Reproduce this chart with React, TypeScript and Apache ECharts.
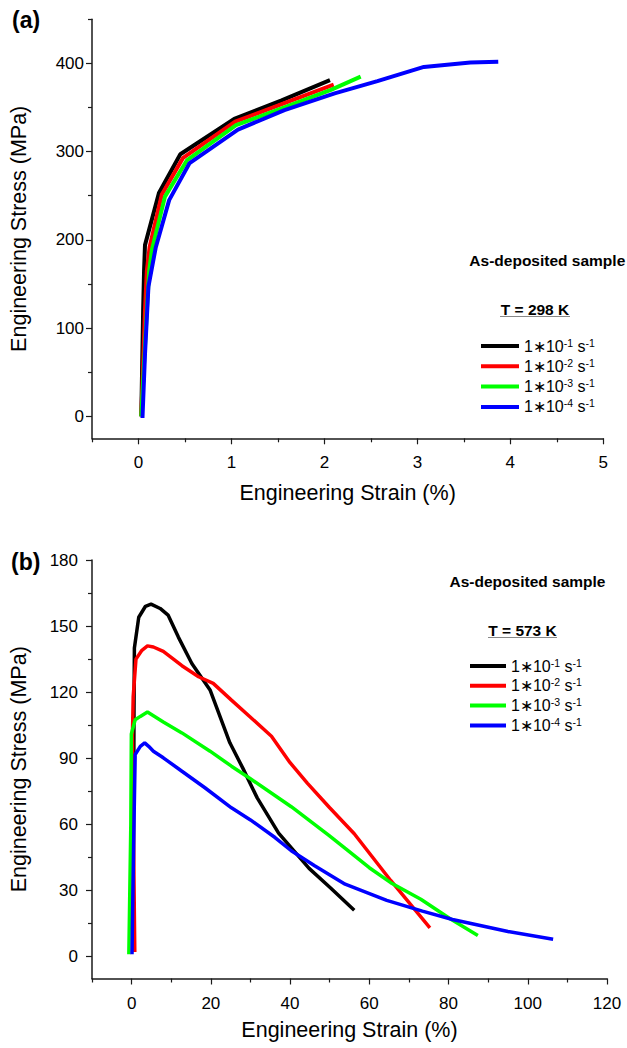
import { useEffect, useRef } from 'react';
import * as echarts from 'echarts';

const FONT = '"Liberation Sans", Arial, Helvetica, sans-serif';

// Legend / series meta
const rateNames = ['1∗10-1 s-1', '1∗10-2 s-1', '1∗10-3 s-1', '1∗10-4 s-1'];
const rateExps = ['-1', '-2', '-3', '-4'];
const rateColors = ['#000000', '#ff0000', '#00ff00', '#0000ff'];

// Panel (a): T = 298 K  [strain %, stress MPa]
const a298Rate1 = [[0.03, 0], [0.04, 60], [0.05, 120], [0.06, 165], [0.07, 194], [0.22, 253], [0.45, 297], [1.03, 337], [1.54, 358], [2.06, 381]];
const a298Rate2 = [[0.03, 0], [0.05, 60], [0.07, 120], [0.09, 165], [0.12, 192], [0.25, 251], [0.48, 293], [1.04, 334], [1.57, 355], [2.1, 376]];
const a298Rate3 = [[0.03, 0], [0.06, 60], [0.09, 120], [0.115, 165], [0.145, 189], [0.285, 249], [0.52, 290], [1.05, 330], [1.59, 351], [2.07, 370], [2.39, 385]];
const a298Rate4 = [[0.043, -2], [0.07, 70], [0.107, 147], [0.185, 191], [0.33, 245], [0.55, 287], [1.07, 325], [1.57, 347], [2.11, 366], [2.57, 380], [3.07, 396], [3.57, 401], [3.87, 402]];

// Panel (b): T = 573 K
const b573Rate1 = [[0.3, 2], [0.5, 60], [0.6, 110], [0.7, 140], [1.8, 154], [3.5, 159], [4.9, 160], [7.2, 158], [9.2, 155], [11.8, 145], [15.2, 133], [19.8, 121], [24.8, 97], [28.1, 85.4], [31.7, 72], [37.1, 56], [44.8, 40], [50.3, 31], [56.2, 21]];
const b573Rate2 = [[0.8, 2], [0.5, 50], [0.2, 100], [0.4, 118], [1.1, 135], [2.6, 139], [4.0, 141], [5.5, 140.5], [8.0, 138.5], [12.7, 132], [16.9, 127], [20.6, 124], [25.2, 116.4], [30, 108.6], [35.3, 100], [40, 88], [44.4, 78.6], [50, 67.5], [56.2, 55.7], [65.4, 34.5], [75.3, 13]];
const b573Rate3 = [[-0.7, 1], [-0.2, 60], [-0.07, 101], [0.9, 107.5], [2.2, 109], [4.0, 111], [8.0, 106.5], [12.7, 101.5], [19.8, 93.2], [25.2, 86.4], [29.9, 80.8], [40.3, 68], [49.8, 55], [54, 49], [60, 40.3], [65.4, 33.5], [73, 26], [80.5, 17], [87.4, 9.5]];
const b573Rate4 = [[0.1, 1], [0.5, 50], [0.9, 91.7], [2.2, 95.4], [3.3, 97], [4.3, 95.4], [5.5, 93.2], [8, 90.2], [12.7, 84.1], [18.5, 76.6], [25.2, 67.5], [30, 62], [36.2, 54], [40.3, 48], [46.2, 41.2], [53.9, 32.8], [64.4, 25.5], [73.4, 20.6], [81, 16.8], [95, 11.3], [106.4, 7.8]];

// Axis ticks
const aXLabels = [0, 1, 2, 3, 4, 5];
const aXMinor = [-0.5, 0.5, 1.5, 2.5, 3.5, 4.5];
const aYLabels = [0, 100, 200, 300, 400];
const aYMinor = [50, 150, 250, 350, 450];
const bXLabels = [0, 20, 40, 60, 80, 100, 120];
const bXMinor = [-10, 10, 30, 50, 70, 90, 110];
const bYLabels = [0, 30, 60, 90, 120, 150, 180];
const bYMinor = [15, 45, 75, 105, 135, 165];

const aSeries = [a298Rate1, a298Rate2, a298Rate3, a298Rate4];
const bSeries = [b573Rate1, b573Rate2, b573Rate3, b573Rate4];

const AXIS_COLOR = '#1a1a1a';

function mainAxis(gridIndex: number, min: number, max: number, labels: number[], name: string, nameGap: number, isX: boolean, labelMargin: number) {
  return {
    type: 'value',
    gridIndex,
    min,
    max,
    position: isX ? 'bottom' : 'left',
    name,
    nameLocation: 'middle',
    nameGap,
    nameTextStyle: { fontSize: 21.5, color: '#000', fontFamily: FONT },
    axisLine: { show: true, onZero: false, lineStyle: { color: AXIS_COLOR, width: 1.5 } },
    axisTick: { show: true, inside: false, length: 6, customValues: labels, lineStyle: { color: AXIS_COLOR, width: 1.2 } },
    minorTick: { show: false },
    axisLabel: { show: true, customValues: labels, fontSize: 17, color: '#000', fontFamily: FONT, margin: labelMargin },
    splitLine: { show: false },
  };
}

function minorAxis(gridIndex: number, min: number, max: number, ticks: number[], isX: boolean) {
  return {
    type: 'value',
    gridIndex,
    min,
    max,
    position: isX ? 'bottom' : 'left',
    offset: 0,
    axisLine: { show: false, onZero: false },
    axisTick: { show: true, inside: false, length: 4, customValues: ticks, lineStyle: { color: AXIS_COLOR, width: 1.2 } },
    axisLabel: { show: false },
    splitLine: { show: false },
  };
}

function legendFormatter(name: string) {
  const i = rateNames.indexOf(name);
  return `{b|1∗10}{s|${rateExps[i]}}{b| s}{s|-1}`;
}

const legendRich = {
  b: { fontSize: 16, fontFamily: FONT, color: '#000', lineHeight: 18 },
  s: { fontSize: 10.5, fontFamily: FONT, color: '#000', lineHeight: 10, verticalAlign: 'top' },
};

function makeLegend(left: number, top: number, itemWidth: number, itemGap: number) {
  return {
    data: rateNames,
    orient: 'vertical',
    left,
    top,
    padding: 0,
    itemWidth,
    itemHeight: 4,
    itemGap,
    icon: 'rect',
    selectedMode: false,
    formatter: legendFormatter,
    textStyle: { rich: legendRich, fontSize: 16, fontFamily: FONT },
  };
}

function textEl(text: string, x: number, y: number, font: string, align = 'center') {
  return {
    type: 'text',
    x,
    y,
    style: { text, font, fill: '#000', textAlign: align, textVerticalAlign: 'middle', align, verticalAlign: 'middle' },
  };
}

export default function App() {
  const ref = useRef<HTMLDivElement>(null);
  useEffect(() => {
    if (!ref.current) return;
    const chart = echarts.init(ref.current, undefined, { renderer: 'svg' });
    const series: any[] = [];
    aSeries.forEach((d, i) => {
      series.push({
        type: 'line', name: rateNames[i], data: d, xAxisIndex: 0, yAxisIndex: 0,
        showSymbol: false, symbol: 'none', color: rateColors[i],
        lineStyle: { width: 4, color: rateColors[i] },
      });
    });
    bSeries.forEach((d, i) => {
      series.push({
        type: 'line', name: rateNames[i], data: d, xAxisIndex: 2, yAxisIndex: 2,
        showSymbol: false, symbol: 'none', color: rateColors[i],
        lineStyle: { width: 3.5, color: rateColors[i] },
      });
    });
    chart.setOption({
      animation: false,
      backgroundColor: '#ffffff',
      textStyle: { fontFamily: FONT },
      grid: [
        { left: 90, top: 19.3, width: 513.3, height: 419, containLabel: false },
        { left: 90, top: 560, width: 517, height: 418.5, containLabel: false },
      ],
      xAxis: [
        mainAxis(0, -0.5, 5, aXLabels, 'Engineering Strain (%)', 44, true, 16),
        minorAxis(0, -0.5, 5, aXMinor, true),
        mainAxis(1, -10, 120, bXLabels, 'Engineering Strain (%)', 40, true, 16),
        minorAxis(1, -10, 120, bXMinor, true),
      ],
      yAxis: [
        mainAxis(0, -25, 450, aYLabels, 'Engineering Stress (MPa)', 62, false, 8),
        minorAxis(0, -25, 450, aYMinor, false),
        mainAxis(1, -10, 180, bYLabels, 'Engineering Stress (MPa)', 62, false, 14),
        minorAxis(1, -10, 180, bYMinor, false),
      ],
      legend: [
        makeLegend(481, 337, 38, 3.3),
        makeLegend(470, 657, 36, 2.8),
      ],
      graphic: [
        textEl('(a)', 12, 20, `bold 23px ${FONT}`, 'left'),
        textEl('(b)', 11, 562, `bold 23px ${FONT}`, 'left'),
        textEl('As-deposited sample', 547.3, 260, `bold 15.5px ${FONT}`),
        textEl('T = 298 K', 535, 309, `bold 15.5px ${FONT}`),
        { type: 'line', shape: { x1: 500, y1: 316.5, x2: 570, y2: 316.5 }, style: { stroke: '#888', lineWidth: 1 } },
        textEl('As-deposited sample', 527.5, 581.7, `bold 15.5px ${FONT}`),
        textEl('T = 573 K', 522.5, 630, `bold 15.5px ${FONT}`),
        { type: 'line', shape: { x1: 488, y1: 637.5, x2: 557, y2: 637.5 }, style: { stroke: '#888', lineWidth: 1 } },
      ],
      series,
    });
    return () => chart.dispose();
  }, []);
  return <div ref={ref} style={{ position: 'absolute', left: 0, top: 0, width: 627, height: 1048, background: '#fff' }} />;
}
